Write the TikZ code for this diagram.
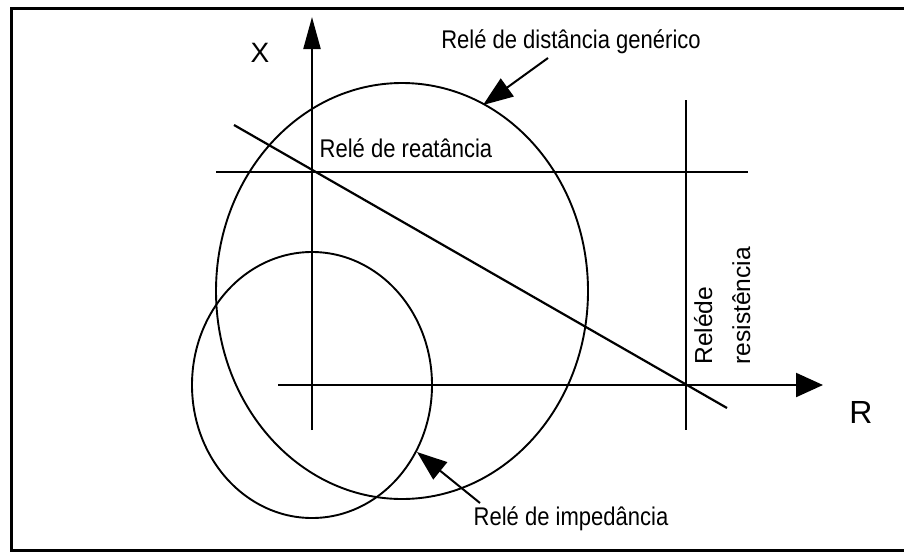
\documentclass[tikz,border=0pt]{standalone}
\usepackage{fontspec}
\setmainfont{Liberation Sans}
\newfontfamily\narrowsf{Liberation Sans}[FakeStretch=0.86]
\usepackage{tikz}
\usetikzlibrary{arrows.meta}
\usetikzlibrary{positioning}

\begin{document}
\begin{tikzpicture}[x=0.5pt,y=-0.5pt,
  axis/.style={line width=1.1pt},
  relay/.style={line width=1.1pt},
  curve/.style={line width=0.95pt},
  lbl/.style={inner sep=0pt,font=\narrowsf\fontsize{12.8}{14}\selectfont},
  vlbl/.style={inner sep=0pt,rotate=90,anchor=base west,font=\fontsize{12.3}{14}\selectfont},
  pointer/.style={line width=1pt,-{Triangle[length=15pt,width=11pt]}}]

\useasboundingbox (0,0) rectangle (904,552);
\begin{scope}
\clip (0,0) rectangle (904,552);
\draw[line width=1.5pt] (11,8) rectangle (912,550);
\end{scope}

  \coordinate (O) at (312,385);
  \coordinate (xtop) at (312,17);
  \coordinate (xbot) at (312,430);
  \coordinate (rleft) at (278,385);
  \coordinate (rtip) at (823,385);

% eixos
\draw[axis,-{Triangle[length=16pt,width=8.5pt]}] (xbot) -- (xtop);
\draw[axis,-{Triangle[length=13.5pt,width=12pt]}] (rleft) -- (rtip);
  \node (X) at (260,53) {\fontsize{14}{16}\selectfont X};
  \node (R) at (861,412) {\fontsize{16}{18}\selectfont R};

% caracteristicas
\draw[relay] (216,172) coordinate (ra) -- (748,172) coordinate (rb);
\draw[relay] (686,100) coordinate (sa) -- (686,430) coordinate (sb);
\draw[relay] (234,125) coordinate (da) -- (727,408) coordinate (db);
\draw[curve] (402,291) ellipse [x radius=93pt,y radius=104pt];
\draw[curve] (O) ellipse [x radius=60pt,y radius=66.5pt];

  \coordinate (gen) at (483,105);
  \coordinate (imp) at (417,452);
  \node[lbl,anchor=base] (Lgen) at (571,48) {Relé de distância genérico};
  \node[lbl,anchor=base] (Lreat) at (406,157) {Relé de reatância};
  \node[lbl,anchor=base] (Limp) at (571,525) {Relé de impedância};
  \node[vlbl] (Lres1) at (712,365) {Reléde};
  \node[vlbl] (Lres2) at (750,365) {resistência};

\draw[pointer] (548,58) -- (gen);
\draw[pointer] (480,503) -- (imp);
\end{tikzpicture}
\end{document}
